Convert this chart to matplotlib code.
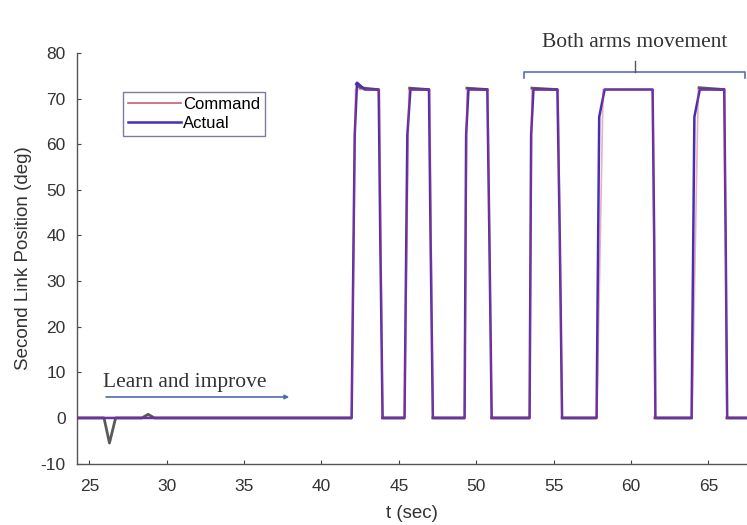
import numpy as np
import matplotlib
matplotlib.use("Agg")
import matplotlib.pyplot as plt

# commanded joint angle of the second link (deg), piecewise linear breakpoints
cmd_t = [24.2, 41.95, 42.2, 43.75, 43.95, 45.37, 45.65, 47.0, 47.2, 49.25, 49.4,
         50.75, 51.0, 53.45, 53.6, 55.3, 55.55, 57.8, 58.2, 61.42, 61.55,
         63.95, 64.35, 66.05, 66.2, 67.6]
cmd_deg = [0, 0, 72, 72, 0, 0, 72, 72, 0, 0, 72, 72, 0, 0, 72, 72, 0, 0, 72, 72, 0,
           0, 72, 72, 0, 0]

# measured joint angle
act_t = [24.2, 41.95, 42.15, 42.3, 42.8, 43.7, 43.8, 43.95, 45.37, 45.55, 45.75,
         46.95, 47.05, 47.2, 49.25, 49.35, 49.5, 50.72, 50.85, 51.0, 53.45, 53.55,
         53.7, 55.25, 55.4, 55.55, 57.78, 57.95, 58.3, 61.4, 61.5, 61.58, 63.92,
         64.1, 64.45, 66.03, 66.12, 66.22, 67.6]
act_deg = [0, 0, 62, 73.5, 72, 72, 40, 0, 0, 62, 72, 72, 40, 0, 0, 62, 72, 72, 40, 0,
           0, 62, 72, 72, 40, 0, 0, 66, 72, 72, 40, 0, 0, 66, 72, 72, 40, 0, 0]

# tracking trace during settled intervals (gaps during transitions)
trk_t = [24.2, 25.95, 26.3, 26.7, 28.4, 28.8, 29.2, 41.9, np.nan,
         42.25, 42.5, 43.6, np.nan, 43.95, 45.3, np.nan, 45.7, 46.9, np.nan,
         47.2, 49.2, np.nan, 49.4, 50.7, np.nan, 51.0, 53.4, np.nan,
         53.6, 55.2, np.nan, 55.55, 57.7, np.nan, 61.55, 63.9, np.nan,
         64.4, 66.0, np.nan, 66.2, 67.6]
trk_deg = [0, 0, -5.5, 0, 0, 0.8, 0, 0, np.nan,
           73.2, 72.4, 72, np.nan, 0, 0, np.nan, 72.3, 72, np.nan,
           0, 0, np.nan, 72.3, 72, np.nan, 0, 0, np.nan,
           72.3, 72, np.nan, 0, 0, np.nan, 0, 0, np.nan,
           72.4, 72, np.nan, 0, 0]

x_ticks = [25, 30, 35, 40, 45, 50, 55, 60, 65]
y_ticks = [-10, 0, 10, 20, 30, 40, 50, 60, 70, 80]

plt.rcParams['font.family'] = ['Liberation Sans', 'DejaVu Sans']
plt.rcParams['axes.unicode_minus'] = False

fig = plt.figure(figsize=(7.47, 5.25), dpi=100)
ax = fig.add_axes([0.103, 0.117, 0.897, 0.782])

ax.plot(trk_t, trk_deg, color='#5a5a5a', lw=2.0, zorder=2)
ax.plot(act_t, act_deg, color='#4a2db2', lw=1.8, label='Actual', zorder=3)
ax.plot(cmd_t, cmd_deg, color='#c03a6a', lw=1.2, alpha=0.4, zorder=4)
# legend handle for the command line
ax.plot([], [], color='#c86070', lw=1.2, label='Command')

ax.set_xlim(24.2, 67.5)
ax.set_ylim(-10, 80)
ax.set_xticks(x_ticks)
ax.set_yticks(y_ticks)
ax.tick_params(direction='in', length=3, labelsize=12.5, colors='#444444',
               labelcolor='#333333')
ax.tick_params(axis='x', pad=11)
ax.tick_params(axis='y', pad=8)
for side in ['top', 'right']:
    ax.spines[side].set_visible(False)
for side in ['left', 'bottom']:
    ax.spines[side].set_color('#555555')
    ax.spines[side].set_linewidth(1.0)

ax.set_xlabel('t (sec)', fontsize=13.5, color='#333333', labelpad=8)
ax.set_ylabel('Second Link Position (deg)', fontsize=13.5, color='#333333',
              labelpad=6)

h, l = ax.get_legend_handles_labels()
leg = ax.legend([h[1], h[0]], [l[1], l[0]], loc='upper left',
                bbox_to_anchor=(0.068, 0.905), fontsize=12, frameon=True,
                fancybox=False, handlelength=3.2, handletextpad=0.15,
                borderpad=0.3, labelspacing=0.25, borderaxespad=0)
leg.get_frame().set_edgecolor('#5a5a8a')
leg.get_frame().set_linewidth(1.0)

# annotation: learning phase
ax.text(25.9, 5.6, 'Learn and improve', family=['Liberation Serif'], fontsize=15.5,
        color='#333333', ha='left', va='bottom')
ax.annotate('', xy=(38.1, 4.6), xytext=(25.9, 4.6),
            arrowprops=dict(arrowstyle='-|>', color='#4f6bb0', lw=1.2,
                            mutation_scale=6))

# annotation: bracket over the later pulses
br_y = 75.8
ax.plot([53.1, 53.1, 67.4, 67.4], [74.6, br_y, br_y, 74.6], color='#5a6cc0',
        lw=1.2, clip_on=False)
ax.plot([60.25, 60.25], [br_y, 78.3], color='#555555', lw=1.0, clip_on=False)
ax.text(60.25, 80.2, 'Both arms movement', family=['Liberation Serif'],
        fontsize=15.5, color='#333333', ha='center', va='bottom')

fig.savefig('out.png', dpi=100)
